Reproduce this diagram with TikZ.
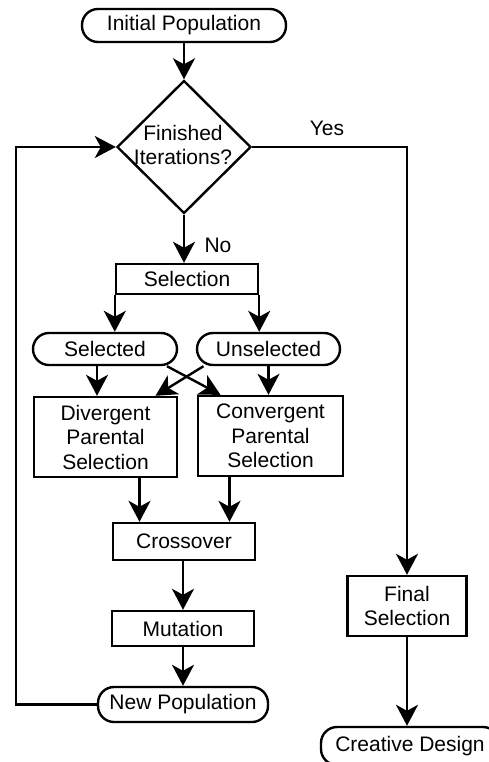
\documentclass[tikz,border=0pt]{standalone}
\usepackage{fontspec}
\setmainfont{Liberation Sans}
\usetikzlibrary{arrows.meta,shapes.geometric}
\begin{document}
\begin{tikzpicture}[x=1pt,y=-1pt,
  every node/.style={font=\fontsize{21}{24.5}\selectfont, align=center, inner sep=0pt},
  box/.style={draw, line width=2.4pt, rectangle},
  stad/.style={draw, line width=2.4pt, rectangle, rounded corners=16pt},
  dia/.style={draw, line width=2.4pt, diamond, minimum width=134pt, minimum height=133pt},
  conn/.style={line width=2.4pt},
  arr/.style={conn, -{Stealth[length=21pt, width=22pt, inset=6pt]}}
]
\useasboundingbox (0,0) rectangle (488,762);
% nodes
\node[stad, minimum width=204pt, minimum height=33pt] (init) at (184,25.5) {Initial Population};
\node[dia] (dec) at (184,147) {};
\node (dectext) at (183,145) {Finished\\Iterations?};
\node[box, minimum width=142pt, minimum height=30pt] (sel) at (187,279) {Selection};
\node[stad, minimum width=144pt, minimum height=32pt] (sed) at (105,349) {Selected};
\node[stad, minimum width=143pt, minimum height=32pt] (uns) at (268.5,349) {Unselected};
\node[box, minimum width=143pt, minimum height=80pt] (div) at (105.5,437) {Divergent\\Parental\\Selection};
\node[box, minimum width=145pt, minimum height=80pt] (conv) at (270.5,436) {Convergent\\Parental\\Selection};
\node[box, minimum width=142pt, minimum height=37pt] (cross) at (184,541.5) {Crossover};
\node[box, minimum width=142pt, minimum height=35pt] (mut) at (183,628.5) {Mutation};
\node[stad, minimum width=170pt, minimum height=35pt] (newp) at (183,704.5) {New Population};
\node[box, minimum width=119pt, minimum height=60pt] (fin) at (407,606) {Final\\Selection};
\node[stad, minimum width=178pt, minimum height=38pt] (cre) at (410,746) {Creative Design};
\node (yes) at (327,128) {Yes};
\node (no) at (218,245) {No};
\coordinate (lp) at (16,704.5);
% connectors
\draw[arr] (init.south) -- (dec.north);
\draw[arr] (dec.east) -| (fin.north);
\draw[arr] (dec.south) -- (dec.south |- sel.north);
\draw[arr] (sel.south west) -- (sel.south west |- sed.north);
\draw[arr] (sel.south east) -- (sel.south east |- uns.north);
\draw[arr] ([xshift=-8pt]sed.south) -- ([xshift=-8pt]sed.south |- div.north);
\draw[arr] ([xshift=62pt]sed.south) -- ([xshift=-50pt]conv.north);
\draw[arr] ([xshift=-65pt]uns.south) -- ([xshift=50pt]div.north);
\draw[arr] (uns.south) -- (uns.south |- conv.north);
\draw[arr] ([xshift=34pt]div.south) -- ([xshift=34pt]div.south |- cross.north);
\draw[arr] ([xshift=-41pt]conv.south) -- ([xshift=-41pt]conv.south |- cross.north);
\draw[arr] (cross.south -| mut.north) -- (mut.north);
\draw[arr] (mut.south -| newp.north) -- (newp.north);
\draw[arr] (newp.west) -- (lp) |- (dec.west);
\draw[arr] (fin.south) -- (fin.south |- cre.north);
\end{tikzpicture}
\end{document}
